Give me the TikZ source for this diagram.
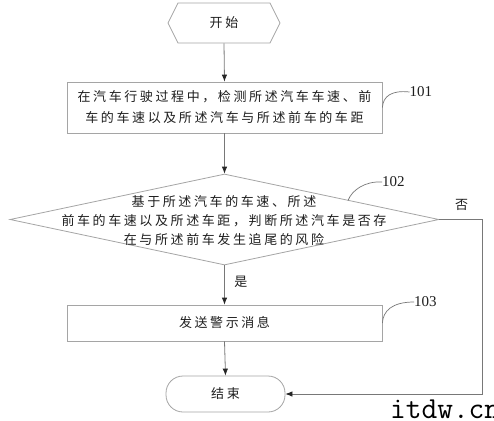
\documentclass[tikz,border=0pt]{standalone}
\usepackage{fontspec}
\setmainfont{Liberation Serif}
\newfontfamily\cjk[LetterSpace=20]{Noto Sans CJK SC}
\usetikzlibrary{shapes.geometric,shapes.symbols,arrows.meta}
\definecolor{linegray}{RGB}{120,120,120}
\definecolor{boxgray}{RGB}{165,165,165}
\definecolor{textcol}{RGB}{30,30,30}
\begin{document}
\begin{tikzpicture}[x=1pt,y=-1pt,
  box/.style={draw=boxgray, line width=0.8pt, inner sep=0, text=textcol, align=center},
  cjktxt/.style={font=\cjk\fontsize{13}{21}\selectfont, text=textcol, align=center},
  arr/.style={draw=linegray, line width=0.8pt, -{Latex[length=7pt,width=5.5pt,color=black!85]}},
  lbl/.style={font=\fontsize{15}{15}\selectfont, text=textcol, inner sep=0, anchor=west},
  tag/.style={draw=linegray, line width=0.7pt}
]
\useasboundingbox[fill=white] (0,0) rectangle (494,420);

% start
\node[signal, signal to=west and east, signal pointer angle=127, box, minimum width=112, minimum height=40, cjktxt] (start) at (224,23) {开始};

% box 101
\node[box, minimum width=315, minimum height=51, cjktxt] (b1) at (224.5,107.5) {在汽车行驶过程中，检测所述汽车车速、前\\车的车速以及所述汽车与所述前车的车距};

% decision
\node[diamond, draw=boxgray, line width=0.8pt, minimum width=429, minimum height=91, inner sep=0] (dia) at (224.5,219.5) {};
\node[cjktxt, font=\cjk\fontsize{13}{19}\selectfont, inner sep=0] (diatext) at (224,221) {基于所述汽车的车速、所述\\前车的车速以及所述车距，判断所述汽车是否存\\在与所述前车发生追尾的风险};

% box 103
\node[box, minimum width=315, minimum height=36, cjktxt] (b3) at (224.5,323) {发送警示消息};

% end
\node[box, rounded corners=17, minimum width=119, minimum height=36, cjktxt] (end) at (225.5,394) {结束};

% connectors
\draw[arr] (start.south) -- (b1.north);
\draw[arr] (b1.south) -- (dia.north);
\draw[arr] (dia.south) -- node[pos=0.42, right=9.5pt, cjktxt, inner sep=0] (yes) {是} (b3.north);
\draw[arr] (b3.south) -- (end.north);
\coordinate (nocorner) at (482,219.5);
\draw[arr] (dia.east) -- (nocorner) |- (end.east);
\node[cjktxt, inner sep=0] (no) at (461.5,205) {否};

% tags
\node[lbl] (t101) at (409.5,92) {101};
\draw[tag] (b1.east) .. controls (383,96) and (392,90) .. (t101.west);
\node[lbl] (t102) at (382,182) {102};
\coordinate (d102) at (348,200.5);
\draw[tag] (d102) .. controls (352,190) and (365,181) .. (t102.west);
\node[lbl] (t103) at (414,302) {103};
\draw[tag] (b3.east) .. controls (383,311) and (392,302) .. (t103.west);

% watermark text
\begin{scope}
\clip (0,0) rectangle (494,420);
\node[anchor=base west, font=\ttfamily\fontsize{30.5}{31}\selectfont, inner sep=0, text=black] (wm) at (390,418) {itdw.cn};
\end{scope}
\end{tikzpicture}
\end{document}
